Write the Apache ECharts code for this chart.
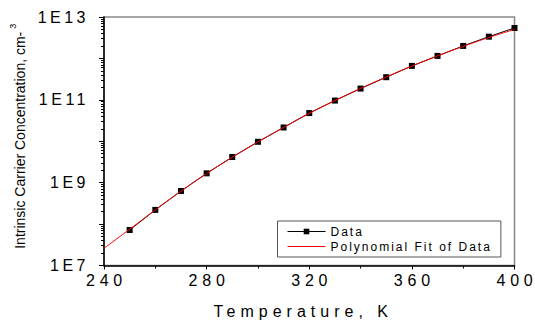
<!DOCTYPE html>
<html>
<head>
<meta charset="utf-8">
<script src="https://cdn.jsdelivr.net/npm/echarts@6/dist/echarts.min.js"></script>
<style>
  html, body { margin: 0; padding: 0; background: #fff; }
  #chart { width: 535px; height: 324px; }
  #chart text[style*="Arial"] { letter-spacing: 4.8px; }
  #chart text[style*="Helvetica"] { letter-spacing: 3.5px; }
  #chart text[style*="FreeSans"] { letter-spacing: 5px; }
  #chart text[style*="Nimbus"] { letter-spacing: 2px; }
</style>
</head>
<body>
<div id="chart"></div>
<script>
// Temperature (K)
const temps = [250, 260, 270, 280, 290, 300, 310, 320, 330, 340, 350, 360, 370, 380, 390, 400];
// Intrinsic carrier concentration (cm^-3)
const conc = [7.2e7, 2.2e8, 6.3e8, 1.68e9, 4.16e9, 9.7e9, 2.15e10, 4.79e10, 9.6e10, 1.87e11, 3.52e11, 6.6e11, 1.15e12, 2.0e12, 3.35e12, 5.43e12];
// Polynomial fit curve
const fitTemps = [240, 250, 260, 270, 280, 290, 300, 310, 320, 330, 340, 350, 360, 370, 380, 390, 400];
const fitConc = [2.6e7, 7.5e7, 2.2e8, 6.2e8, 1.65e9, 4.1e9, 9.6e9, 2.15e10, 4.7e10, 9.6e10, 1.88e11, 3.55e11, 6.5e11, 1.15e12, 1.95e12, 3.2e12, 5.0e12];
// Axis tick labels
const xTickLabels = ['240', '280', '320', '360', '400'];
const yTickLabels = ['1E7', '1E9', '1E11', '1E13'];
// Decade exponents shown on the log axis, and the mantissas of its minor ticks
const yDecades = [7, 8, 9, 10, 11, 12];
const yMinorMantissas = [2, 3, 4, 5, 6, 7, 8, 9];

const yMinorTicks = [];
yDecades.forEach(function (e) {
  yMinorMantissas.forEach(function (m) { yMinorTicks.push(m * Math.pow(10, e)); });
});

const chart = echarts.init(document.getElementById('chart'), null, { renderer: 'svg' });

const FONT = 'Liberation Sans';
const option = {
  animation: false,
  backgroundColor: '#fff',
  grid: {
    left: 103, right: 20.5, top: 17, bottom: 58, containLabel: false,
    show: true, borderColor: '#888', borderWidth: 1.5, backgroundColor: 'transparent'
  },
  legend: {
    left: 277.5, top: 221,
    orient: 'vertical',
    itemWidth: 38, itemHeight: 7, itemGap: 1,
    padding: [3.5, 53, 3.5, 9.5],
    borderColor: '#555', borderWidth: 1,
    lineStyle: { width: 1 },
    textStyle: { fontFamily: FONT + ', Nimbus Sans', fontSize: 12, color: '#000', lineHeight: 14 },
    data: [
      { name: 'Data' },
      { name: 'Polynomial Fit of Data', itemStyle: { opacity: 0 } }
    ]
  },
  xAxis: [{
    type: 'value', min: 240, max: 400, interval: 40,
    name: 'Temperature, K', nameLocation: 'middle', nameGap: 37.5,
    nameTextStyle: { fontFamily: FONT + ', FreeSans', fontSize: 16, color: '#000', padding: [0, 12, 0, 0] },
    axisLine: { show: true, onZero: false, lineStyle: { color: '#000', width: 1.5 } },
    axisTick: { show: true, length: 4, lineStyle: { color: '#000', width: 1 } },
    minorTick: { show: true, splitNumber: 2, length: 3, lineStyle: { color: '#000', width: 1 } },
    splitLine: { show: false },
    axisLabel: {
      margin: 7, fontFamily: FONT + ', Arial', fontSize: 16, color: '#000', padding: [0, 0, 0, 5],
      formatter: function (v) { const s = String(Math.round(v)); return xTickLabels.indexOf(s) >= 0 ? s : ''; }
    }
  }],
  yAxis: [{
    type: 'log', logBase: 10, min: 1e7, max: 1e13,
    name: 'Intrinsic Carrier Concentration, cm-{s|3}', nameLocation: 'middle', nameGap: 73,
    nameTextStyle: {
      fontFamily: FONT, fontSize: 14, color: '#000', padding: [0, 0, 0, 10],
      rich: { s: { fontFamily: FONT, fontSize: 9, color: '#000', verticalAlign: 'top', padding: [0, 0, 14, 3] } }
    },
    axisLine: { show: true, onZero: false, lineStyle: { color: '#000', width: 1.5 } },
    axisTick: { show: true, length: 5, lineStyle: { color: '#000', width: 1 } },
    minorTick: { show: false },
    splitLine: { show: false },
    axisLabel: {
      margin: 15, fontFamily: FONT + ', Helvetica', fontSize: 16, color: '#000',
      formatter: function (v) {
        const e = Math.round(Math.log10(v));
        const s = '1E' + e;
        return yTickLabels.indexOf(s) >= 0 ? s : '';
      }
    }
  }, {
    type: 'log', logBase: 10, min: 1e7, max: 1e13, position: 'left',
    axisLine: { show: false },
    axisTick: { show: true, length: 3, customValues: yMinorTicks, lineStyle: { color: '#000', width: 1 } },
    axisLabel: { show: false },
    splitLine: { show: false }
  }],
  series: [{
    name: 'Data', type: 'line', xAxisIndex: 0, yAxisIndex: 0,
    data: temps.map((t, i) => [t, conc[i]]),
    symbol: 'rect', symbolSize: 6, showSymbol: true,
    lineStyle: { color: '#000', width: 1 },
    itemStyle: { color: '#000' },
    z: 2
  }, {
    name: 'Polynomial Fit of Data', type: 'line', xAxisIndex: 0, yAxisIndex: 0,
    data: fitTemps.map((t, i) => [t, fitConc[i]]),
    smooth: true, symbol: 'none', showSymbol: false,
    lineStyle: { color: '#ff0000', width: 1 },
    itemStyle: { color: '#ff0000' },
    z: 3
  }]
};
chart.setOption(option);
</script>
</body>
</html>
